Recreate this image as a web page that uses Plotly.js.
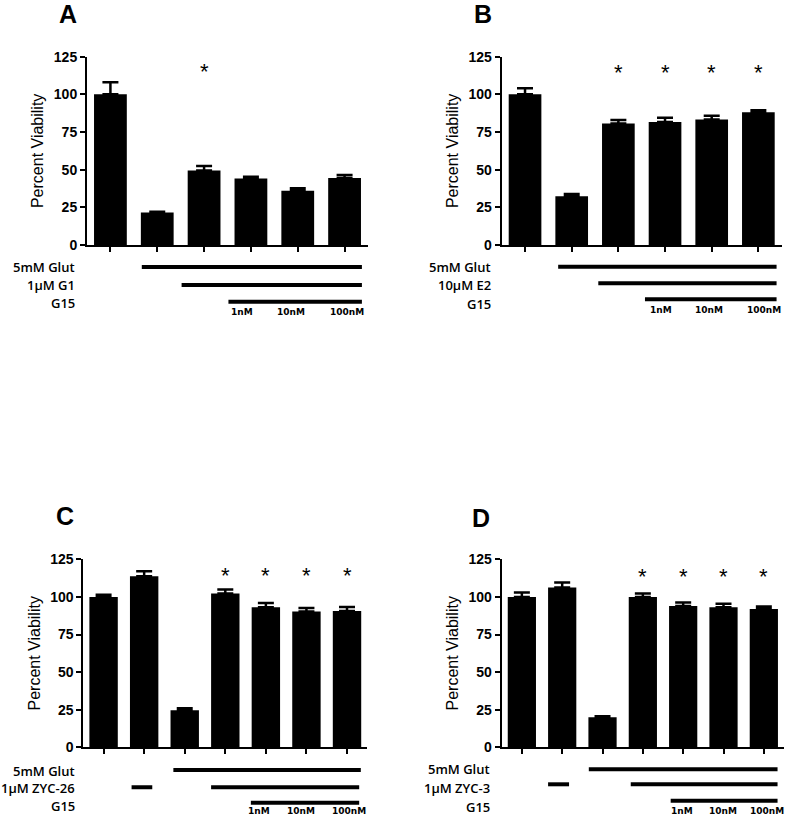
<!DOCTYPE html>
<html><head><meta charset="utf-8">
<script src="https://cdn.plot.ly/plotly-3.0.1.min.js"></script>
<style>html,body{margin:0;padding:0;background:#fff;} #chart{width:787px;height:816px;}</style>
</head><body><div id="chart"></div>
<script>
// ---------- DATA ----------
const panelLetters = ['A', 'B', 'C', 'D'];
const yTicks = [0, 25, 50, 75, 100, 125];
const concLabels = ['1nM', '10nM', '100nM'];

// Panel A
const valsA = [100, 21.5, 49.5, 44.2, 36, 44.4];
const errA  = [8, 0.6, 3, 1.1, 1.6, 2];
const sigA  = [0, 0, 1, 0, 0, 0];
const rowsA = ['5mM Glut', '1µM G1', 'G15'];
const segRowA = [0, 1, 2];
const segStartA = [0.67, 1.52, 2.52];
const segEndA = [5.37, 5.37, 5.37];
const concXA = [2.81, 3.85, 5.06];

// Panel B
const valsB = [100, 32.3, 80.6, 81.6, 83.3, 88.2];
const errB  = [4, 1.6, 2.3, 2.8, 2.5, 1.3];
const sigB  = [0, 0, 1, 1, 1, 1];
const rowsB = ['5mM Glut', '10µM E2', 'G15'];
const segRowB = [0, 1, 2];
const segStartB = [0.71, 1.57, 2.57];
const segEndB = [5.39, 5.39, 5.39];
const concXB = [2.91, 3.95, 5.12];

// Panel C
const valsC = [100, 113.8, 24.7, 102.3, 93.1, 90.3, 90.6];
const errC  = [1.5, 3.2, 1.2, 2.7, 2.8, 2.4, 2.7];
const sigC  = [0, 0, 0, 1, 1, 1, 1];
const rowsC = ['5mM Glut', '1µM ZYC-26', 'G15'];
const segRowC = [0, 1, 1, 2];
const segStartC = [1.72, 0.69, 2.65, 3.63];
const segEndC = [6.34, 1.2, 6.30, 6.30];
const concXC = [3.83, 4.86, 6.04];

// Panel D
const valsD = [100, 106.3, 19.9, 100, 94, 93.2, 92];
const errD  = [3, 3.3, 0.8, 2.3, 2.3, 2.2, 1.7];
const sigD  = [0, 0, 0, 1, 1, 1, 1];
const rowsD = ['5mM Glut', '1µM ZYC-3', 'G15'];
const segRowD = [0, 1, 1, 2];
const segStartD = [1.66, 0.65, 2.70, 3.69];
const segEndD = [6.34, 1.17, 6.34, 6.34];
const concXD = [3.97, 4.99, 6.08];

const starLevel = [118.2, 118, 117.4, 117];

// ---------- GEOMETRY (pixels) ----------
const W = 787, H = 816;
const geo = [
  {ax:[87, 368],     ay:[56.7, 245],   letter:[68, 13.5],  rowRight:77,    rowTextY:[267, 285, 303],     lineY:[267, 285, 301.7],     concY:312},
  {ax:[501.7, 781.7],ay:[56.7, 245],   letter:[483, 13.5], rowRight:493,   rowTextY:[267, 285, 303.5],   lineY:[266.7, 283.3, 299.3], concY:309.5},
  {ax:[83.3, 367.3], ay:[559.3, 747.3],letter:[65, 516],   rowRight:77,    rowTextY:[770.7, 788.3, 806], lineY:[770, 787.3, 802.7],   concY:811},
  {ax:[501.7, 784],  ay:[559.3, 747.3],letter:[481, 517.5],rowRight:491.7, rowTextY:[769.3, 787.7, 806.5],lineY:[769.3, 784.3, 800.7], concY:811}
];
const px = x => x / W;
const py = y => 1 - y / H;

const panels = [
  {vals:valsA, err:errA, sig:sigA, rows:rowsA, segRow:segRowA, segStart:segStartA, segEnd:segEndA, concX:concXA},
  {vals:valsB, err:errB, sig:sigB, rows:rowsB, segRow:segRowB, segStart:segStartB, segEnd:segEndB, concX:concXB},
  {vals:valsC, err:errC, sig:sigC, rows:rowsC, segRow:segRowC, segStart:segStartC, segEnd:segEndC, concX:concXC},
  {vals:valsD, err:errD, sig:sigD, rows:rowsD, segRow:segRowD, segStart:segStartD, segEnd:segEndD, concX:concXD}
];

const FONT = 'Liberation Sans, Arial, sans-serif';
const NARROW = 'Liberation Sans Narrow, Arial Narrow, Liberation Sans, sans-serif';
const LABFONT = 'Open Sans, Noto Sans, sans-serif';

const traces = [];
const layout = {
  width: W, height: H,
  margin: {l:0, r:0, t:0, b:0},
  paper_bgcolor: '#fff', plot_bgcolor: '#fff',
  showlegend: false,
  font: {family: FONT, color: '#000'},
  annotations: [], shapes: []
};

panels.forEach((p, k) => {
  const g = geo[k];
  const sfx = k === 0 ? '' : String(k + 1);
  const xa = 'x' + sfx, ya = 'y' + sfx;
  const n = p.vals.length;
  const idx = p.vals.map((_, i) => i);

  traces.push({
    type: 'bar', x: idx, y: p.vals, xaxis: xa, yaxis: ya,
    width: 0.7,
    marker: {color: '#000', line: {width: 0}},
    error_y: {type: 'data', symmetric: false, array: p.err, arrayminus: p.err.map(() => 0),
              color: '#000', thickness: 2.5, width: 8},
    hoverinfo: 'y'
  });

  layout['xaxis' + sfx] = {
    domain: [px(g.ax[0]), px(g.ax[1])], anchor: ya,
    range: [-0.5, n - 0.5], tickvals: idx, ticktext: idx.map(() => ''),
    showticklabels: false, ticks: 'outside', ticklen: 5, tickwidth: 2, tickcolor: '#000',
    showline: true, linewidth: 2, linecolor: '#000', showgrid: false, zeroline: false, fixedrange: true
  };
  layout['yaxis' + sfx] = {
    domain: [py(g.ay[1]), py(g.ay[0])], anchor: xa,
    range: [0, 125], tickvals: yTicks, ticktext: yTicks.map(String),
    ticks: 'outside', ticklen: 5, tickwidth: 2, tickcolor: '#000',
    tickfont: {family: NARROW, size: 14, weight: 'bold', color: '#000'},
    showline: true, linewidth: 2, linecolor: '#000', showgrid: false, zeroline: false, fixedrange: true,
    title: {text: 'Percent Viability', font: {family: FONT, size: 16, color: '#000'}, standoff: 6}
  };

  // panel letter
  layout.annotations.push({
    xref: 'paper', yref: 'paper', x: px(g.letter[0]), y: py(g.letter[1]),
    xanchor: 'center', yanchor: 'middle', showarrow: false,
    text: '<b>' + panelLetters[k] + '</b>', font: {family: FONT, size: 25, color: '#000'}
  });

  // significance stars
  p.sig.forEach((s, i) => {
    if (s) layout.annotations.push({
      xref: xa, yref: ya, x: i, y: starLevel[k], yshift: -5,
      xanchor: 'center', yanchor: 'middle', showarrow: false,
      text: '*', font: {family: FONT, size: 22, color: '#000'}
    });
  });

  // treatment row labels
  p.rows.forEach((r, j) => {
    layout.annotations.push({
      xref: 'paper', yref: 'paper', x: px(g.rowRight), y: py(g.rowTextY[j]),
      xanchor: 'right', yanchor: 'middle', showarrow: false,
      text: r, font: {family: LABFONT, size: 13, weight: 600, color: '#000'}
    });
  });

  // treatment lines
  p.segRow.forEach((r, j) => {
    layout.shapes.push({
      type: 'line', xref: xa, yref: 'paper',
      x0: p.segStart[j], x1: p.segEnd[j], y0: py(g.lineY[r]), y1: py(g.lineY[r]),
      line: {color: '#000', width: 4}
    });
  });

  // concentration labels
  concLabels.forEach((c, j) => {
    layout.annotations.push({
      xref: xa, yref: 'paper', x: p.concX[j], y: py(g.concY),
      xanchor: 'center', yanchor: 'middle', showarrow: false,
      text: c, font: {family: 'DejaVu Sans, sans-serif', size: 9, weight: 'bold', color: '#000'}
    });
  });
});

Plotly.newPlot('chart', traces, layout, {staticPlot: true, displayModeBar: false});
</script>
</body></html>
